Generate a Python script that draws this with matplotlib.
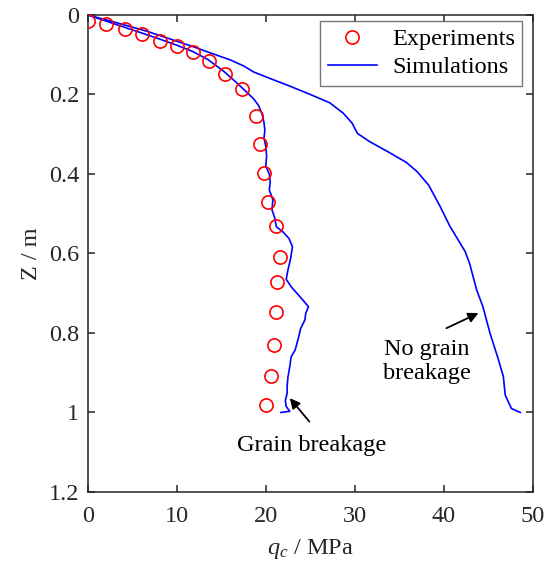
import matplotlib
matplotlib.use("Agg")
import matplotlib.pyplot as plt

plt.rcParams["font.family"] = "Liberation Serif"
plt.rcParams["mathtext.fontset"] = "custom"
plt.rcParams["mathtext.rm"] = "Liberation Serif"
plt.rcParams["mathtext.it"] = "Liberation Serif:italic"

# experiments (q_c in MPa, depth Z in m)
exp_qc = [0.07, 2.0, 4.2, 6.1, 8.1, 10.0, 11.8, 13.6, 15.4, 17.3, 18.9,
          19.4, 19.8, 20.3, 21.2, 21.6, 21.3, 21.2, 20.9, 20.6, 20.0]
exp_z = [0.014, 0.023, 0.036, 0.049, 0.066, 0.079, 0.094, 0.116, 0.148, 0.187, 0.253,
         0.325, 0.397, 0.470, 0.530, 0.610, 0.672, 0.748, 0.831, 0.908, 0.982]

# simulation with grain breakage
brk_qc = [0, 2, 4, 6, 8, 10, 11.8, 13.5, 15.3, 16.8, 17.8, 18.6, 19.2, 19.6, 19.8,
          19.9, 19.8, 20.0, 20.1, 20.0, 20.4, 20.5, 20.4, 20.8, 20.7, 21.0, 21.2,
          21.9, 22.6, 23.0, 22.8, 22.5, 22.3, 22.9, 23.5, 24.2, 24.8, 24.5, 24.4,
          23.9, 23.7, 23.3, 22.85, 22.7, 22.5, 22.4, 22.4, 22.2, 22.3, 22.7, 21.7]
brk_z = [0, 0.015, 0.03, 0.045, 0.06, 0.076, 0.092, 0.112, 0.142, 0.172, 0.193, 0.21,
         0.228, 0.25, 0.27, 0.29, 0.31, 0.33, 0.356, 0.38, 0.40, 0.42, 0.44, 0.465,
         0.49, 0.51, 0.533, 0.545, 0.562, 0.583, 0.612, 0.641, 0.665, 0.685, 0.70,
         0.718, 0.734, 0.75, 0.767, 0.79, 0.81, 0.843, 0.86, 0.885, 0.91, 0.935,
         0.952, 0.97, 0.985, 0.997, 1.0]

# simulation without grain breakage
nobrk_qc = [0, 3, 6.5, 10, 12, 14.1, 16, 17.5, 18.6, 20.5, 22.7, 25, 27.2, 28.0,
            28.7, 29.7, 30.3, 31.7, 33.8, 35.8, 37.0, 38.3, 39.6, 40.7, 42.4, 42.9,
            43.7, 44.4, 45.2, 46.1, 46.7, 46.9, 47.6, 48.6]
nobrk_z = [0, 0.018, 0.04, 0.066, 0.081, 0.098, 0.113, 0.128, 0.143, 0.16, 0.179,
           0.2, 0.221, 0.235, 0.247, 0.272, 0.298, 0.319, 0.345, 0.371, 0.394,
           0.428, 0.482, 0.532, 0.595, 0.625, 0.692, 0.734, 0.801, 0.864, 0.91,
           0.956, 0.99, 1.0]

x_ticks = [0, 10, 20, 30, 40, 50]
y_ticks = [0, 0.2, 0.4, 0.6, 0.8, 1.0, 1.2]
y_tick_labels = ["0", "0.2", "0.4", "0.6", "0.8", "1", "1.2"]

dark = "#262626"
fs = 17.5

fig = plt.figure(figsize=(5.57, 5.73), dpi=100)
ax = fig.add_axes([0.1575, 0.1414, 0.799, 0.8325])

ax.plot(exp_qc, exp_z, linestyle="none", marker="o", markersize=9.5,
        markerfacecolor="none", markeredgecolor="#ff0000", markeredgewidth=1.2,
        label="Experiments", zorder=3)
ax.plot(brk_qc, brk_z, color="#0000ff", linewidth=1.2, label="Simulations")
ax.plot(nobrk_qc, nobrk_z, color="#0000ff", linewidth=1.2)

ax.set_xlim(0, 50)
ax.set_ylim(1.2, 0)
ax.set_xticks(x_ticks)
ax.set_yticks(y_ticks)
ax.set_yticklabels(y_tick_labels)
ax.tick_params(direction="in", top=True, right=True, length=5, width=1.1,
               labelsize=fs, colors=dark)
ax.tick_params(axis="x", pad=10)
ax.tick_params(axis="y", pad=6)
for spine in ax.spines.values():
    spine.set_linewidth(1.1)
    spine.set_color(dark)

ax.set_xlabel(r"$q_c$ / MPa", fontsize=fs, color=dark, labelpad=7)
ax.set_ylabel("Z / m", fontsize=fs, color=dark, labelpad=5)

arrow_style = dict(arrowstyle="-|>", color="black", lw=1.3,
                   shrinkA=0, shrinkB=0, mutation_scale=15)
ax.annotate("", xy=(22.7, 0.964), xytext=(24.9, 1.023), arrowprops=arrow_style)
ax.annotate("", xy=(43.9, 0.75), xytext=(40.3, 0.788), arrowprops=arrow_style)
ax.text(25.1, 1.082, "Grain breakage", fontsize=fs, ha="center", va="center")
ax.text(38.1, 0.872, "No grain\nbreakage", fontsize=fs, ha="center", va="center",
        linespacing=1.15)

leg = ax.legend(loc="upper right", bbox_to_anchor=(0.99, 1.0), fontsize=fs,
                frameon=True, fancybox=False, borderaxespad=0.25,
                handlelength=2.05, handletextpad=0.6, borderpad=0.3,
                labelspacing=0.25)
leg.get_frame().set_edgecolor("#555555")
leg.get_frame().set_linewidth(1.0)

fig.savefig("out.png", dpi=100)
